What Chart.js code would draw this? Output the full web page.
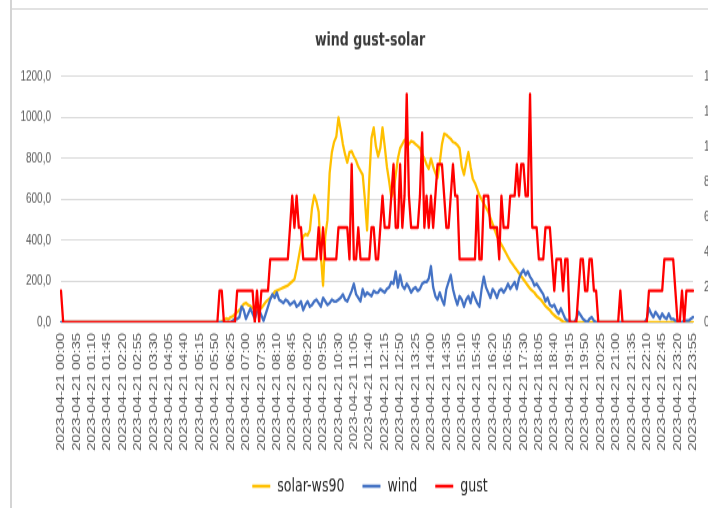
<!DOCTYPE html>
<html>
<head>
<meta charset="utf-8">
<title>wind gust-solar</title>
<script src="https://cdn.jsdelivr.net/npm/chart.js@4.4.1/dist/chart.umd.min.js"></script>
<style>
	html, body { margin: 0; padding: 0; background: #fff; width: 708px; height: 508px; overflow: hidden; }
	.frame { position: relative; width: 708px; height: 508px; overflow: hidden; }
	/* the source screenshot is stretched vertically, so the canvas is too */
	#chart { position: absolute; left: 0; top: 0; transform: scaleY(1.3); transform-origin: 0 0; }
	.edge-left { position: absolute; left: 10px; top: 0; width: 2px; height: 508px; background: #d4d4d4; }
	.edge-top { position: absolute; left: 12px; top: 8px; right: 0; height: 2px; background: #e2e2e2; }
</style>
</head>
<body>
<div class="frame">
	<canvas id="chart" width="740" height="391"></canvas>
	<div class="edge-left"></div>
	<div class="edge-top"></div>
</div>
<script>
'use strict';

var CHART_TITLE = 'wind gust-solar';
var SERIES_NAMES = ['solar-ws90', 'wind', 'gust'];
var SERIES_COLORS = ['#FFC000', '#4472C4', '#FF0000'];

// 5 minute readings, 2023-04-21 00:00 .. 23:55 (rows of 12 = one hour)
var TIMES = [];
for (var h = 0; h < 24; h++) {
	for (var m = 0; m < 60; m += 5) {
		TIMES.push('2023-04-21 ' + (h < 10 ? '0' : '') + h + ':' + (m < 10 ? '0' : '') + m);
	}
}

// solar (left axis)
var SOLAR = [
	0,0,0,0,0,0,0,0,0,0,0,0,
	0,0,0,0,0,0,0,0,0,0,0,0,
	0,0,0,0,0,0,0,0,0,0,0,0,
	0,0,0,0,0,0,0,0,0,0,0,0,
	0,0,0,0,0,0,0,0,0,0,0,0,
	0,0,0,0,0,0,0,0,0,0,0,0,
	0,5,10,20,15,25,30,40,50,60,75,90,
	95,85,80,70,75,60,80,70,85,100,110,120,
	130,150,155,160,165,170,175,180,190,200,210,260,
	320,380,420,430,425,450,560,620,590,540,330,180,
	420,500,730,830,880,905,1000,940,870,820,780,830,
	835,810,790,760,740,720,600,450,700,900,950,860,
	810,850,950,860,760,690,610,640,720,800,850,870,
	890,880,870,885,880,870,860,850,820,800,770,750,
	800,760,730,705,780,870,920,915,905,895,880,875,
	865,850,760,720,780,830,760,700,680,650,620,600,
	580,560,540,510,480,450,420,400,380,360,340,320,
	300,285,270,255,240,225,210,195,180,165,155,145,
	130,120,110,95,80,70,60,45,35,25,20,12,
	5,0,0,0,0,0,0,0,0,0,0,0,
	0,0,0,0,0,0,0,0,0,0,0,0,
	0,0,0,0,0,0,0,0,0,0,0,0,
	0,0,0,0,0,0,0,0,0,0,0,0,
	0,0,0,0,0,0,0,0,0,0,0,0
];

// wind (right axis)
var WIND = [
	0,0,0,0,0,0,0,0,0,0,0,0,
	0,0,0,0,0,0,0,0,0,0,0,0,
	0,0,0,0,0,0,0,0,0,0,0,0,
	0,0,0,0,0,0,0,0,0,0,0,0,
	0,0,0,0,0,0,0,0,0,0,0,0,
	0,0,0,0,0,0,0,0,0,0,0,0,
	0,0,0,0,0,0,0.1,0.2,0.2,0.3,0.9,0.7,
	0.2,0.5,0.8,0.5,0.2,0.6,0.7,0.4,0.1,0.5,0.9,1.3,
	1.6,1.4,1.7,1.3,1.2,1.1,1.3,1.2,1.0,1.1,1.2,0.9,
	1.0,1.2,0.7,1.0,1.2,0.9,1.0,1.2,1.3,1.1,0.9,1.4,
	1.2,1.0,1.1,1.3,1.2,1.2,1.3,1.4,1.6,1.3,1.2,1.5,
	1.8,2.2,1.6,1.4,1.2,1.9,1.5,1.7,1.6,1.5,1.8,1.7,
	1.7,1.9,1.8,1.7,1.9,2.0,2.3,2.2,2.9,2.0,2.7,2.1,
	1.9,2.2,2.0,1.7,1.9,2.0,1.8,1.9,2.2,2.3,2.3,2.5,
	3.2,2.0,1.5,1.3,1.7,1.3,1.0,1.9,2.3,2.7,1.9,1.4,
	1.0,1.5,1.3,0.9,1.3,1.5,1.1,1.7,1.4,1.1,0.9,1.9,
	2.6,2.0,1.7,1.4,1.9,1.7,1.4,1.8,1.9,1.7,1.9,2.2,
	1.9,2.1,2.3,1.9,2.5,2.8,3.0,2.7,2.9,2.6,2.4,2.1,
	2.2,2.0,1.8,1.6,1.2,1.4,1.0,0.9,1.0,0.7,0.5,0.8,
	0.5,0.2,0.1,0.1,0,0,0.2,0.6,0.4,0.2,0.1,0,
	0.2,0.3,0.1,0,0,0,0,0,0,0,0,0,
	0,0,0,0,0,0,0,0,0,0,0,0,
	0,0,0.2,0.8,0.5,0.3,0.6,0.4,0.2,0.5,0.3,0.2,
	0.5,0.2,0.2,0.1,0.1,0,0,0.1,0.1,0.1,0.2,0.3
];

// gust (right axis)
var GUST = [
	1.8,0,0,0,0,0,0,0,0,0,0,0,
	0,0,0,0,0,0,0,0,0,0,0,0,
	0,0,0,0,0,0,0,0,0,0,0,0,
	0,0,0,0,0,0,0,0,0,0,0,0,
	0,0,0,0,0,0,0,0,0,0,0,0,
	0,0,0,0,0,0,0,0,0,0,0,0,
	1.8,1.8,0,0,0,0,0,0,1.8,1.8,1.8,1.8,
	1.8,1.8,1.8,1.8,0,1.8,0,1.8,1.8,1.8,1.8,3.6,
	3.6,3.6,3.6,3.6,3.6,3.6,3.6,3.6,5.4,7.2,5.4,7.2,
	5.4,5.4,3.6,3.6,3.6,3.6,3.6,3.6,3.6,5.4,3.6,5.4,
	3.6,3.6,3.6,3.6,3.6,3.6,5.4,5.4,5.4,5.4,5.4,3.6,
	9.0,3.6,3.6,5.4,3.6,3.6,3.6,3.6,3.6,5.4,5.4,3.6,
	3.6,5.4,7.2,5.4,5.4,5.4,7.2,9.0,5.4,5.4,9.0,5.4,
	7.2,13.0,7.2,5.4,5.4,5.4,5.4,7.2,10.8,5.4,7.2,5.4,
	7.2,5.4,7.2,9.0,9.0,9.0,7.2,5.4,5.4,7.2,9.0,7.2,
	7.2,3.6,3.6,3.6,3.6,3.6,3.6,3.6,3.6,7.2,3.6,3.6,
	7.2,7.2,7.2,5.4,5.4,5.4,5.4,3.6,7.2,5.4,5.4,5.4,
	7.2,7.2,7.2,9.0,7.2,9.0,9.0,7.2,7.2,13.0,5.4,5.4,
	5.4,3.6,3.6,3.6,5.4,5.4,5.4,3.6,1.8,3.6,3.6,3.6,
	1.8,3.6,3.6,0,0,0,0,1.8,3.6,3.6,1.8,1.8,
	3.6,3.6,1.8,1.8,0,0,0,0,0,0,0,0,
	0,0,1.8,0,0,0,0,0,0,0,0,0,
	0,0,0,1.8,1.8,1.8,1.8,1.8,1.8,1.8,3.6,3.6,
	3.6,3.6,3.6,1.8,0,0,1.8,0,1.8,1.8,1.8,1.8
];

var LABEL_EVERY = 7;

var TEXT_FONT = "'Liberation Sans', Arial, sans-serif";
var NARROW_FONT = "'Liberation Sans Narrow', 'DejaVu Sans Condensed', sans-serif";
var TICK_COLOR = '#595959';

function decimalComma(value) {
	return Number(value).toFixed(1).replace('.', ',');
}

function buildDatasets() {
	var values = [SOLAR, WIND, GUST];
	var axes = ['y', 'y2', 'y2'];
	return values.map(function(data, i) {
		return {
			label: SERIES_NAMES[i],
			data: data,
			yAxisID: axes[i],
			borderColor: SERIES_COLORS[i],
			backgroundColor: SERIES_COLORS[i],
			order: 3 - i   // gust on top, like the original
		};
	});
}

var ctx = document.getElementById('chart');

var myChart = new Chart(ctx, {
	type: 'line',
	data: {
		labels: TIMES,
		datasets: buildDatasets()
	},
	options: {
		responsive: false,
		animation: false,
		devicePixelRatio: 1,
		layout: { padding: 0 },
		elements: {
			point: { radius: 0 },
			line: { borderWidth: 2.3, tension: 0, borderJoinStyle: 'round', borderCapStyle: 'round' }
		},
		plugins: {
			title: {
				display: true,
				text: CHART_TITLE,
				color: '#3a3a3a',
				font: { family: NARROW_FONT, size: 14, weight: 'bold' },
				padding: { top: 23, bottom: 19 }
			},
			legend: {
				position: 'bottom',
				labels: {
					color: '#262626',
					font: { family: NARROW_FONT, size: 14 },
					boxWidth: 18,
					boxHeight: 2.5,
					padding: 18,
					sort: function(a, b) { return a.datasetIndex - b.datasetIndex; },
					generateLabels: function(chart) {
						var items = Chart.defaults.plugins.legend.labels.generateLabels(chart);
						items.forEach(function(item) { item.lineWidth = 0; });
						return items;
					}
				}
			},
			tooltip: { enabled: false }
		},
		scales: {
			x: {
				type: 'category',
				offset: false,
				grid: { display: false, drawTicks: false },
				border: { display: false },
				ticks: {
					autoSkip: false,
					minRotation: 90,
					maxRotation: 90,
					padding: 8,
					color: TICK_COLOR,
					font: { family: TEXT_FONT, size: 11.5 },
					callback: function(value, index) {
						return index % LABEL_EVERY === 0 ? this.getLabelForValue(value) : '';
					}
				},
				afterFit: function(scale) { scale.height = 101; }
			},
			y: {
				position: 'left',
				min: 0,
				max: 1200,
				grid: { color: '#d9d9d9', drawTicks: false },
				border: { display: false },
				ticks: {
					stepSize: 200,
					padding: 10,
					color: TICK_COLOR,
					font: { family: TEXT_FONT, size: 10 },
					callback: decimalComma
				},
				afterFit: function(scale) { scale.width = 61; }
			},
			y2: {
				position: 'right',
				min: 0,
				max: 14,
				grid: { display: false, drawTicks: false },
				border: { display: false },
				ticks: {
					stepSize: 2,
					padding: 11,
					color: TICK_COLOR,
					font: { family: TEXT_FONT, size: 10 },
					callback: decimalComma
				},
				afterFit: function(scale) { scale.width = 47; }
			}
		}
	}
});
</script>
</body>
</html>
